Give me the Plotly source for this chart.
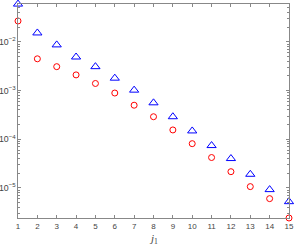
import plotly.graph_objects as go

j1 = list(range(1, 16))
tri_vals = [0.060, 0.0153, 0.0087, 0.0049, 0.0031, 0.0018, 0.00102, 0.00056, 0.00029,
            1.48e-4, 7.4e-5, 4.0e-5, 1.9e-5, 9.2e-6, 5.2e-6]
circ_vals = [0.027, 0.0045, 0.0031, 0.0021, 0.0014, 8.9e-4, 5.0e-4, 2.9e-4, 1.55e-4,
             8.1e-5, 4.2e-5, 2.15e-5, 1.06e-5, 6.0e-6, 2.4e-6]
x_ticks = list(range(1, 16))

fig = go.Figure()
fig.add_trace(go.Scatter(x=j1, y=tri_vals, mode="markers",
                         marker=dict(symbol="triangle-up-open", size=8, color="blue",
                                     line=dict(width=1, color="blue")),
                         cliponaxis=False, showlegend=False))
fig.add_trace(go.Scatter(x=j1, y=circ_vals, mode="markers",
                         marker=dict(symbol="circle-open", size=6, color="red",
                                     line=dict(width=1, color="red")),
                         cliponaxis=False, showlegend=False))

axis_common = dict(showline=True, linecolor="#888888", linewidth=1, mirror="ticks",
                   ticks="inside", ticklen=3, tickcolor="#888888", showgrid=False,
                   zeroline=False, automargin=False)
fig.update_layout(
    width=294, height=246,
    margin=dict(l=18, r=5, t=4, b=28),
    paper_bgcolor="white", plot_bgcolor="white",
    xaxis=dict(range=[1, 15], tickvals=x_ticks, ticktext=[str(v) for v in x_ticks],
               tickfont=dict(family="Liberation Sans, Arial", size=8, color="#444444"),
               **axis_common),
    yaxis=dict(type="log", range=[-5.62, -1.22], dtick=1, exponentformat="power",
               tickfont=dict(family="Liberation Sans, Arial", size=7, color="#444444"),
               minor=dict(ticks="inside", ticklen=2, tickcolor="#888888", showgrid=False),
               **axis_common),
    annotations=[dict(text="<i>j</i><sub>1</sub>", xref="paper", yref="paper",
                      x=0.5, y=0, yshift=-12, xanchor="center", yanchor="top",
                      showarrow=False,
                      font=dict(family="Liberation Serif, Times New Roman", size=11, color="#444444"))],
)
fig.write_html("out.html", config={"displayModeBar": False},
               post_script="document.body.style.margin='0';document.body.style.overflow='hidden';")
